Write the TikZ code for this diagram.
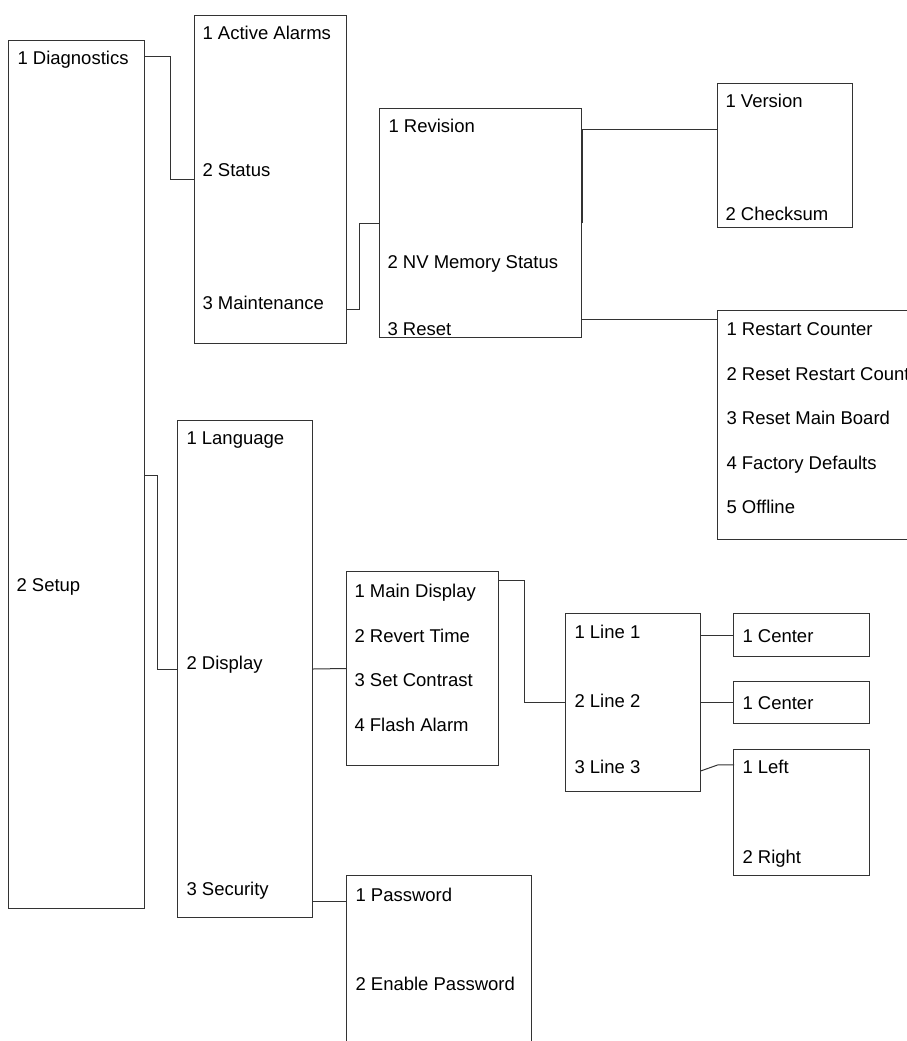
\documentclass[tikz,border=0pt]{standalone}
\usepackage{fontspec}
\newfontfamily\menufont{Liberation Sans}

\begin{document}
\begin{tikzpicture}[x=1pt,y=-1pt,line width=1pt,
  menubox/.style={draw=black!80,anchor=north west,inner sep=0pt},
  item/.style={anchor=base west,inner sep=0pt,font=\menufont\fontsize{18.5}{22}\selectfont},
  link/.style={draw=black!80}]
  \clip (0,0) rectangle (907,1041);

  \node[menubox,minimum width=136pt,minimum height=868pt] (main) at (8,40) {};
  \node[menubox,minimum width=152pt,minimum height=328pt] (diagbox) at (194,15) {};
  \node[menubox,minimum width=202pt,minimum height=229pt] (maintbox) at (379,108) {};
  \node[menubox,minimum width=135pt,minimum height=144pt] (verbox) at (717,83) {};
  \node[menubox,minimum width=250pt,minimum height=229pt] (resetbox) at (717,310) {};
  \node[menubox,minimum width=135pt,minimum height=497pt] (setupbox) at (177,420) {};
  \node[menubox,minimum width=152pt,minimum height=194pt] (dispbox) at (346,571) {};
  \node[menubox,minimum width=135pt,minimum height=178pt] (linebox) at (565,613) {};
  \node[menubox,minimum width=136pt,minimum height=43pt] (center1box) at (733,613) {};
  \node[menubox,minimum width=136pt,minimum height=42pt] (center2box) at (733,681) {};
  \node[menubox,minimum width=136pt,minimum height=126pt] (leftbox) at (733,749) {};
  \node[menubox,minimum width=185pt,minimum height=250pt] (pwbox) at (346,875) {};

  \node[item] (diag) at (17,65) {1 Diagnostics};
  \node[item] (setup) at (16,591) {2 Setup};

  \node[item] (alarms) at (202,40) {1 Active Alarms};
  \node[item] (status) at (202,176) {2 Status};
  \node[item] (maint) at (202,309) {3 Maintenance};

  \node[item] (rev) at (388,132) {1 Revision};
  \node[item] (nvmem) at (387,268) {2 NV Memory Status};
  \node[item] (reset) at (387,335) {3 Reset};

  \node[item] (version) at (725,107) {1 Version};
  \node[item] (checksum) at (725,220) {2 Checksum};

  \node[item] (restart) at (726,335) {1 Restart Counter};
  \node[item] (resetcount) at (726,380) {2 Reset Restart Counter};
  \node[item] (resetboard) at (726,424) {3 Reset Main Board};
  \node[item] (factory) at (726,469) {4 Factory Defaults};
  \node[item] (offline) at (726,513) {5 Offline};

  \node[item] (lang) at (186,444) {1 Language};
  \node[item] (disp) at (186,669) {2 Display};
  \node[item] (sec) at (186,895) {3 Security};

  \node[item] (maindisp) at (354,597) {1 Main Display};
  \node[item] (revert) at (354,642) {2 Revert Time};
  \node[item] (contrast) at (354,686) {3 Set Contrast};
  \node[item] (flash) at (354,731) {4 Flash Alarm};

  \node[item] (line1) at (574,638) {1 Line 1};
  \node[item] (line2) at (574,707) {2 Line 2};
  \node[item] (line3) at (574,773) {3 Line 3};

  \node[item] (center1) at (742,642) {1 Center};
  \node[item] (center2) at (742,709) {1 Center};
  \node[item] (left) at (742,773) {1 Left};
  \node[item] (right) at (742,863) {2 Right};

  \node[item] (pw) at (355,901) {1 Password};
  \node[item] (enablepw) at (355,990) {2 Enable Password};

  \coordinate (resetjoin) at (581,319);
  \coordinate (setupjoin) at (144,475);

  \draw[link] (main.east |- 0,57) -- ++(25,0) |- (diagbox.west);
  \draw[link] (diagbox.east |- maint.base) -- ++(12,0) |- (maintbox.west);
  \draw[link] (maintbox.east) |- (verbox.west |- rev.mid);
  \draw[link] (maintbox.east |- resetjoin) -- (resetbox.west |- resetjoin);
  \draw[link] (main.east |- setupjoin) -- ++(12,0) |- (setupbox.west);
  \draw[link] (setupbox.east) -- (dispbox.west);
  \draw[link] ([yshift=-9pt]dispbox.north east) -- ++(25,0) |- (linebox.west);
  \draw[link] (linebox.east |- center1box.west) -- (center1box.west);
  \draw[link] (linebox.east |- center2box.west) -- (center2box.west);
  \draw[link] (linebox.east |- line3.mid) -- ++(17,-6) -- ++(16,0);
  \draw[link] (setupbox.east |- pw.base) -- (pwbox.west |- pw.base);
\end{tikzpicture}
\end{document}
